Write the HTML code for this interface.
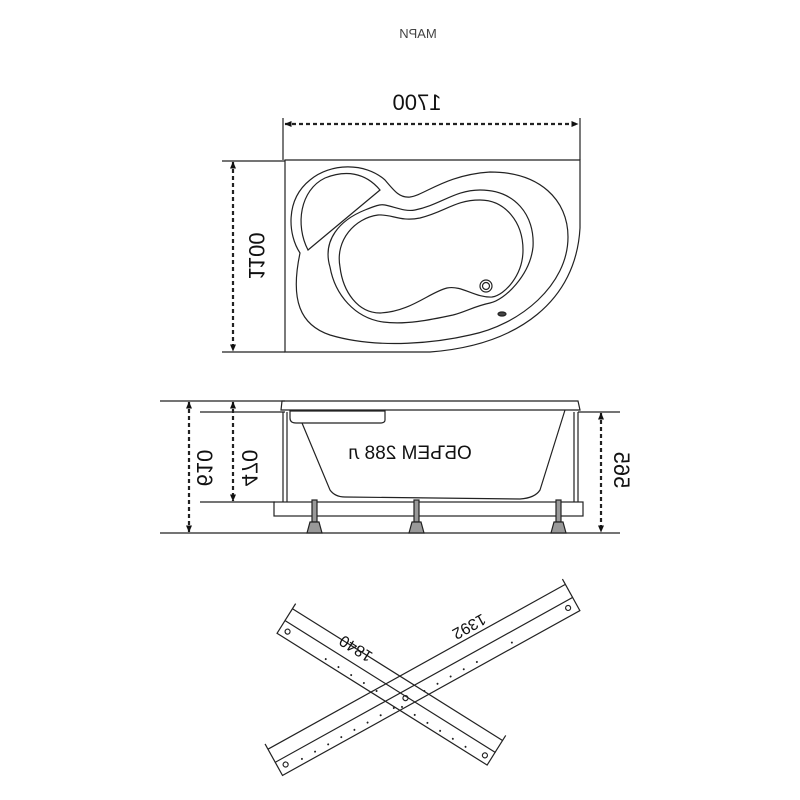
<!DOCTYPE html>
<html><head><style>body{margin:0;background:#fff}svg{display:block}</style></head><body>
<svg width="800" height="800" viewBox="0 0 800 800" xmlns="http://www.w3.org/2000/svg" font-family="Liberation Sans, sans-serif">
<defs>
<marker id="a" markerWidth="7" markerHeight="7" refX="6.5" refY="3.5" orient="auto-start-reverse" markerUnits="userSpaceOnUse" viewBox="0 0 7 7"><path d="M0,0.5 L7,3.5 L0,6.5z" fill="#111"/></marker>
</defs>
<g transform="translate(800,0) scale(-1,1)"><text x="382" y="38" font-size="13" fill="#444" text-anchor="middle">МАРИ</text></g>
<g stroke="#222" fill="none" stroke-width="1.2">
<line x1="283" y1="118" x2="283" y2="160"/><line x1="580" y1="118" x2="580" y2="160"/>
<line x1="285" y1="124" x2="578" y2="124" stroke-width="2.2" stroke-dasharray="4,3" marker-start="url(#a)" marker-end="url(#a)"/>
<line x1="222" y1="161" x2="285" y2="161"/><line x1="222" y1="352" x2="285" y2="352"/>
<line x1="233" y1="162" x2="233" y2="351" stroke-width="2.2" stroke-dasharray="4,3" marker-start="url(#a)" marker-end="url(#a)"/>
<path d="M285,160 L580,160 L580,228 C576,300 520,345 430,352 L285,352 Z"/>
<path d="M300,253 C288,235 285,200 310,180 C330,163 365,162 385,180 C395,192 400,198 410,197 C425,195 445,175 490,172 C540,172 568,200 568,237 C568,285 520,325 470,335 C440,342 380,350 330,335 C300,325 290,300 300,253 Z"/>
<path d="M308,250 C295,225 300,190 325,178 C345,170 365,172 380,190 Z"/>
<path d="M330,267 C322,240 340,220 365,210 C375,206 380,204 385,205 C395,207 405,212 415,210 C440,205 455,190 480,190 C515,190 535,215 533,247 C530,275 505,300 490,303 C475,306 465,312 453,315 C430,320 405,325 383,322 C355,318 335,295 330,267 Z"/>
<path d="M340,267 C335,240 355,218 378,215 C392,214 400,222 420,218 C445,212 455,200 480,200 C505,200 523,222 523,250 C523,275 505,295 492,297 C475,298 462,285 447,288 C430,292 410,312 380,313 C358,313 343,292 340,267 Z"/>
<circle cx="486" cy="286" r="6"/><circle cx="486" cy="286" r="3.5"/>
<ellipse cx="502" cy="314" rx="4" ry="2" fill="#444"/>
<line x1="160" y1="401" x2="285" y2="401"/><line x1="200" y1="412" x2="285" y2="412"/>
<line x1="160" y1="533" x2="620" y2="533"/><line x1="200" y1="502" x2="275" y2="502"/>
<line x1="578" y1="412" x2="620" y2="412"/>
<line x1="189" y1="402" x2="189" y2="532" stroke-width="2.2" stroke-dasharray="4,3" marker-start="url(#a)" marker-end="url(#a)"/>
<line x1="233" y1="402" x2="233" y2="501" stroke-width="2.2" stroke-dasharray="4,3" marker-start="url(#a)" marker-end="url(#a)"/>
<line x1="601" y1="413" x2="601" y2="532" stroke-width="2.2" stroke-dasharray="4,3" marker-start="url(#a)" marker-end="url(#a)"/>
<path d="M282,401 L578,401 L580,410 L281,410 Z"/>
<path d="M290,411 L385,411 L385,420 Q385,423 380,423 L296,423 Q290,423 290,418 Z"/>
<path d="M302,423 L330,490 Q335,497 345,497 L520,499 Q535,498 540,490 L565,410"/>
<line x1="283" y1="412" x2="283" y2="502"/><line x1="287" y1="412" x2="287" y2="502"/>
<line x1="574" y1="412" x2="574" y2="502"/><line x1="578" y1="412" x2="578" y2="502"/>
<rect x="274" y="502" width="309" height="14"/>
<g fill="#999"><rect x="312" y="500" width="5" height="22"/><rect x="414" y="500" width="5" height="22"/><rect x="556" y="500" width="5" height="22"/>
<path d="M310,522 L319,522 L322,533 L307,533 Z"/><path d="M412,522 L421,522 L424,533 L409,533 Z"/><path d="M554,522 L563,522 L566,533 L551,533 Z"/></g>
<g transform="translate(285,630) rotate(32.1)">
<rect x="-5" y="-8" width="248" height="15"/><circle cx="3" cy="0" r="2.5"/><circle cx="236" cy="0" r="2.5"/>
<line x1="-5" y1="-22" x2="243" y2="-22"/><line x1="-5" y1="-28" x2="-5" y2="-8"/><line x1="243" y1="-28" x2="243" y2="-8"/>
</g>
<g transform="translate(283,766) rotate(-29)">
<rect x="-5" y="-7" width="340" height="15"/><circle cx="3" cy="0" r="2.5"/><circle cx="326" cy="0" r="2.5"/><circle cx="140" cy="0" r="2.5"/>
<line x1="-5" y1="-22" x2="335" y2="-22"/><line x1="-5" y1="-28" x2="-5" y2="-7"/><line x1="335" y1="-28" x2="335" y2="-7"/>
</g>
</g>
<g fill="#222">
<g transform="translate(285,630) rotate(32.1)"><circle cx="50" cy="3" r="1"/><circle cx="65" cy="3" r="1"/><circle cx="80" cy="3" r="1"/><circle cx="95" cy="3" r="1"/><circle cx="110" cy="3" r="1"/><circle cx="140" cy="3" r="1"/><circle cx="155" cy="3" r="1"/><circle cx="170" cy="3" r="1"/><circle cx="185" cy="3" r="1"/><circle cx="200" cy="3" r="1"/><circle cx="215" cy="3" r="1"/></g>
<g transform="translate(283,766) rotate(-29)"><circle cx="20" cy="3" r="1"/><circle cx="35" cy="3" r="1"/><circle cx="50" cy="3" r="1"/><circle cx="65" cy="3" r="1"/><circle cx="80" cy="3" r="1"/><circle cx="95" cy="3" r="1"/><circle cx="110" cy="3" r="1"/><circle cx="125" cy="3" r="1"/><circle cx="160" cy="3" r="1"/><circle cx="175" cy="3" r="1"/><circle cx="190" cy="3" r="1"/><circle cx="205" cy="3" r="1"/><circle cx="220" cy="3" r="1"/><circle cx="260" cy="3" r="1"/></g>
</g>
<g fill="#111" font-size="22">
<g transform="translate(417,102) scale(-1,1)"><text text-anchor="middle" y="8">1700</text></g>
<g transform="translate(257,256) rotate(90) scale(-1,1)"><text text-anchor="middle" y="8">1100</text></g>
<g transform="translate(205,468) rotate(90) scale(-1,1)"><text text-anchor="middle" y="8">610</text></g>
<g transform="translate(250,468) rotate(90) scale(-1,1)"><text text-anchor="middle" y="8">470</text></g>
<g transform="translate(622,470) rotate(90) scale(-1,1)"><text text-anchor="middle" y="8">565</text></g>
<g transform="translate(410,452) scale(-1,1)"><text text-anchor="middle" y="7" font-size="19">ОБЪЕМ 288 л</text></g>
<g transform="translate(355,650) rotate(32.1) scale(-1,-1)"><text text-anchor="middle" y="7" font-size="16">1840</text></g>
<g transform="translate(470,628) rotate(-29) scale(1,-1)"><text text-anchor="middle" y="7" font-size="16" transform="scale(-1,1)">1392</text></g>
</g>
</svg>
</body></html>
